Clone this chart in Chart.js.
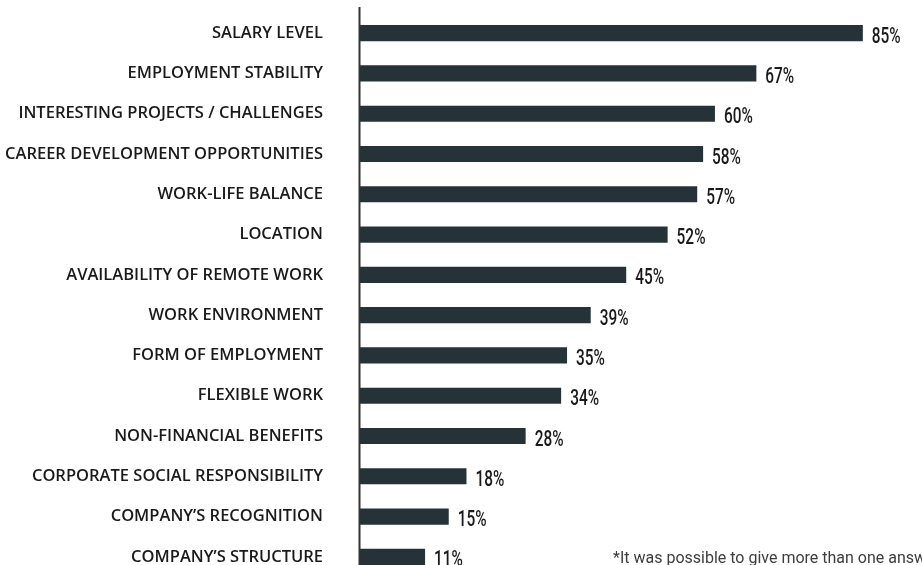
<!DOCTYPE html>
<html>
<head>
<meta charset="utf-8">
<script src="https://cdn.jsdelivr.net/npm/chart.js@4/dist/chart.umd.min.js"></script>
<style>
html,body{margin:0;padding:0;background:#fff;overflow:hidden;width:922px;height:565px;}
#wrap{position:relative;width:922px;height:580px;}
#note{position:absolute;left:613px;top:548px;font:16px Roboto,"Liberation Sans",sans-serif;color:#3d3d3d;white-space:nowrap;}
</style>
</head>
<body>
<div id="wrap">
<canvas id="c" width="922" height="580"></canvas>
<div id="note">*It was possible to give more than one answer</div>
</div>
<script>
const labels=["SALARY LEVEL","EMPLOYMENT STABILITY","INTERESTING PROJECTS / CHALLENGES","CAREER DEVELOPMENT OPPORTUNITIES","WORK-LIFE BALANCE","LOCATION","AVAILABILITY OF REMOTE WORK","WORK ENVIRONMENT","FORM OF EMPLOYMENT","FLEXIBLE WORK","NON-FINANCIAL BENEFITS","CORPORATE SOCIAL RESPONSIBILITY","COMPANY’S RECOGNITION","COMPANY’S STRUCTURE"];
const values=[85,67,60,58,57,52,45,39,35,34,28,18,15,11];

const barColor="#253238";

/* value labels (squeezed to look condensed) + axis line */
const extras={
id:"extras",
afterDatasetsDraw(chart){
let ctx=chart.ctx;
let a=chart.chartArea;
ctx.save();
ctx.strokeStyle="#333";
ctx.lineWidth=2;
ctx.beginPath();
ctx.moveTo(a.left-0.5,7);
ctx.lineTo(a.left-0.5,a.bottom+4);
ctx.stroke();
ctx.fillStyle="#1a1a1a";
ctx.font='500 22px Roboto,sans-serif';
ctx.textAlign="left";
ctx.textBaseline="alphabetic";
chart.getDatasetMeta(0).data.forEach((bar,i)=>{
ctx.save();
ctx.translate(bar.x+9,bar.y+9.5);
ctx.scale(0.7,1);
ctx.fillText(values[i]+"%",0,0);
ctx.restore();
});
ctx.restore();
}
};

new Chart(document.getElementById("c"),{
type:"bar",
data:{labels:labels,
datasets:[{data:values,backgroundColor:barColor,barPercentage:0.8,categoryPercentage:0.5}]},
options:{
indexAxis:"y",
responsive:false,
animation:false,
layout:{padding:{top:13,bottom:3,right:0,left:0}},
plugins:{legend:{display:false},tooltip:{enabled:false}},
scales:{
x:{min:0,max:95,display:false},
y:{
grid:{display:false,drawTicks:false},
border:{display:false},
afterFit(s){s.width=360;s.paddingTop=0;s.paddingBottom=0;},
ticks:{padding:37,color:"#1a1a1a",font:{family:"'Open Sans'",size:16.5,weight:"600"}}
}
}
},
plugins:[extras]
});
</script>
</body>
</html>
